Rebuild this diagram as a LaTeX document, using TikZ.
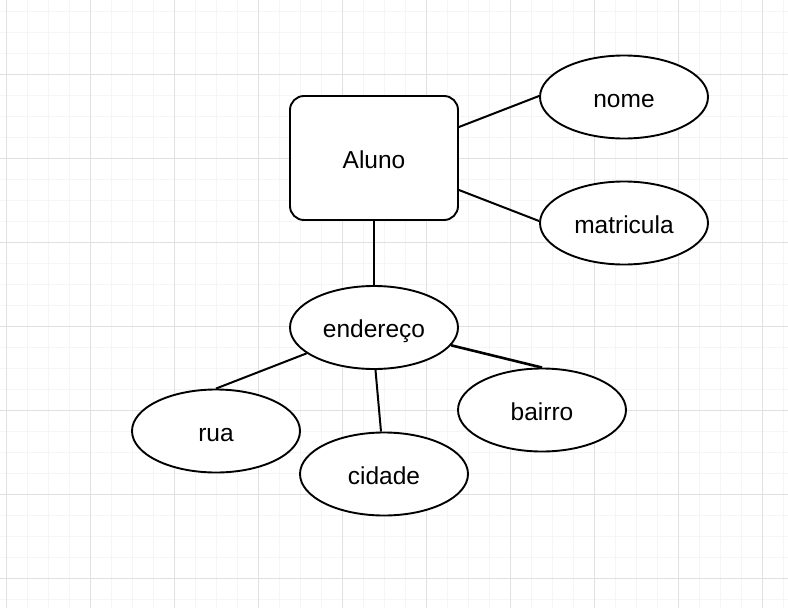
\documentclass[tikz,border=0pt]{standalone}
\usepackage{fontspec}
\setmainfont{Liberation Sans}
\usetikzlibrary{shapes.geometric}
\begin{document}
\begin{tikzpicture}[x=1pt,y=-1pt,
  lbl/.style={font=\fontsize{24.5}{29}\selectfont,text height=20pt,text depth=0pt},
  ent/.style={lbl,draw=black,line width=1.9pt,rounded corners=14pt,minimum width=168pt,minimum height=124pt,inner sep=0pt,fill=white},
  attr/.style={lbl,draw=black,line width=1.9pt,ellipse,minimum width=168pt,minimum height=83pt,inner sep=0pt,fill=white},
  conn/.style={line width=2pt,black},
  minorgrid/.style={draw={rgb,255:red,245;green,245;blue,245},line width=0.8pt},
  majorgrid/.style={draw={rgb,255:red,224;green,224;blue,224},line width=0.8pt}]
\useasboundingbox (0,0) rectangle (788,608);
\fill[white] (0,0) rectangle (788,608);
% grid
\foreach \k in {0,...,38} {
  \draw[minorgrid] (6.7+21*\k,0) -- (6.7+21*\k,608);
}
\foreach \k in {-1,...,29} {
  \draw[minorgrid] (0,11+21*\k) -- (788,11+21*\k);
}
\foreach \k in {0,...,9} {
  \draw[majorgrid] (6.7+84*\k,0) -- (6.7+84*\k,608);
}
\foreach \k in {0,...,6} {
  \draw[majorgrid] (0,74+84*\k) -- (788,74+84*\k);
}
% nodes
\node[ent] (aluno) at (374,158) {Aluno};
\node[attr] (nome) at (624,97) {nome};
\node[attr] (matricula) at (624,223) {matricula};
\node[attr] (endereco) at (374,327.5) {endereço};
\node[attr] (rua) at (216,431) {rua};
\node[attr] (cidade) at (384,474) {cidade};
\node[attr] (bairro) at (542,410) {bairro};
% connectors
\draw[conn] (aluno.east |- 0,127) -- (nome.west |- 0,96);
\draw[conn] (aluno.east |- 0,190) -- (matricula.west |- 0,221);
\draw[conn] (aluno.south) -- (endereco.north);
\draw[conn] (endereco.-159) -- (rua.north);
\draw[conn] (endereco.-88) -- (cidade.north -| 381,0);
\draw[conn,line width=2.6pt] (endereco.-13) -- (bairro.north);
\end{tikzpicture}
\end{document}
